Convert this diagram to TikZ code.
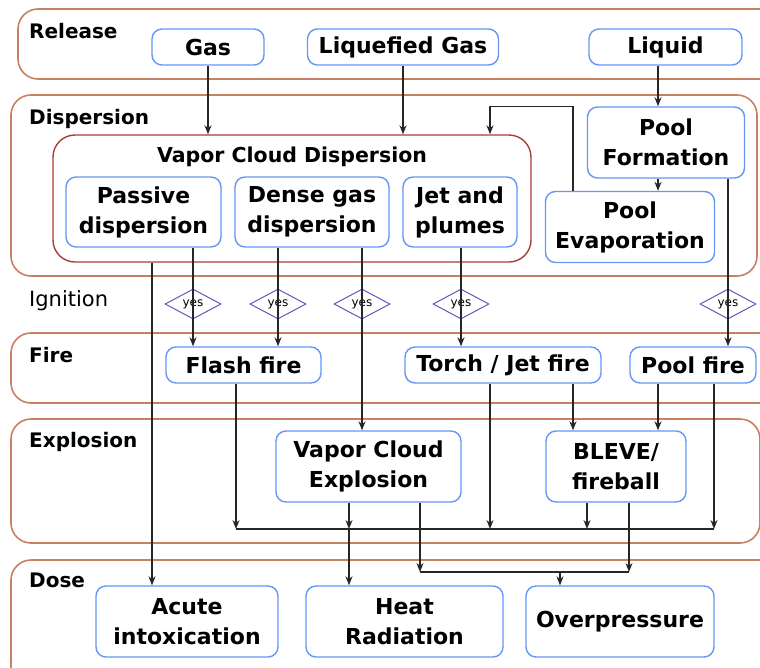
\documentclass[tikz,border=0pt]{standalone}
\usepackage{fontspec}
\setmainfont{DejaVu Sans}
\usetikzlibrary{shapes.geometric,arrows.meta}
\definecolor{bandc}{RGB}{200,128,98}
\definecolor{cloudc}{RGB}{168,62,56}
\definecolor{boxc}{RGB}{102,150,245}
\definecolor{yesc}{RGB}{92,92,190}
\definecolor{linec}{RGB}{38,38,38}

\begin{document}
\begin{tikzpicture}[x=1pt,y=-1pt,
        band/.style={draw=bandc,line width=1.6pt,rounded corners=20pt},
        lbl/.style={anchor=base west,inner sep=0pt,font=\bfseries\fontsize{20}{24}\selectfont},
        box/.style={draw=boxc,line width=1.4pt,rounded corners=10pt,align=center,inner sep=0pt,font=\bfseries\fontsize{22}{30}\selectfont},
        yesd/.style={diamond,draw=yesc,line width=1pt,minimum width=56pt,minimum height=28pt,inner sep=0pt,font=\fontsize{12}{12}\selectfont},
        arr/.style={draw=linec,line width=1.3pt,-{Stealth[length=9pt,width=7pt]}},
        ln/.style={draw=linec,line width=1.3pt}]
    \useasboundingbox (0,0) rectangle (760,667);
    \draw[band] (18,9) rectangle (790,79);
    \draw[band] (11,95) rectangle (757,276);
    \draw[band] (11,333) rectangle (790,403);
    \draw[band] (11,419) rectangle (760,543);
    \draw[band] (11,560) rectangle (790,700);
    \node[lbl] (lrel) at (29,38) {Release};
    \node[lbl] (ldis) at (29,124) {Dispersion};
    \node[lbl,font=\fontsize{21}{24}\selectfont] (lign) at (29,306) {Ignition};
    \node[lbl] (lfire) at (29,362) {Fire};
    \node[lbl] (lexp) at (29,447) {Explosion};
    \node[lbl] (ldose) at (29,587) {Dose};

    \node[box,minimum width=112pt,minimum height=36pt] (gas) at (208,47) {Gas};
    \node[box,minimum width=191pt,minimum height=36pt] (lgas) at (403,47) {Liquefied Gas};
    \node[box,minimum width=153pt,minimum height=36pt] (liquid) at (665.5,47) {Liquid};

    \node[draw=cloudc,line width=1.4pt,rounded corners=22pt,minimum width=478pt,minimum height=127pt] (vcd) at (292,198.5) {};
    \node[font=\bfseries\fontsize{20.5}{24}\selectfont] (vcdt) at (292,157) {Vapor Cloud Dispersion};
    \node[box,minimum width=155pt,minimum height=70pt] (passive) at (143.5,212) {Passive\\dispersion};
    \node[box,minimum width=154pt,minimum height=70pt] (dense) at (312,212) {Dense gas\\dispersion};
    \node[box,minimum width=114pt,minimum height=70pt] (jet) at (460,212) {Jet and\\plumes};
    \node[box,minimum width=157pt,minimum height=71pt] (poolform) at (666,142.5) {Pool\\Formation};
    \node[box,minimum width=169pt,minimum height=71pt] (poolevap) at (630,227) {Pool\\Evaporation};

    \foreach \n/\x in {1/193,2/278,3/362,4/461,5/728}
        \node[yesd] (y\n) at (\x,304) {yes};

    \node[box,minimum width=155pt,minimum height=36pt] (flash) at (243.5,365) {Flash fire};
    \node[box,minimum width=196pt,minimum height=36pt] (torch) at (503,365) {Torch / Jet fire};
    \node[box,minimum width=126pt,minimum height=36pt] (poolfire) at (693,365) {Pool fire};
    \node[box,minimum width=185pt,minimum height=71pt] (vce) at (368.5,466.5) {Vapor Cloud\\Explosion};
    \node[box,minimum width=140pt,minimum height=71pt] (bleve) at (616,466.5) {BLEVE/\\fireball};
    \node[box,minimum width=182pt,minimum height=71pt] (acute) at (187,621.5) {Acute\\intoxication};
    \node[box,minimum width=197pt,minimum height=71pt] (heat) at (404.5,621.5) {Heat\\Radiation};
    \node[box,minimum width=188pt,minimum height=71pt] (over) at (620,621.5) {Overpressure};

    \coordinate (hb1) at (236,529);
    \coordinate (hb2) at (349,529);
    \coordinate (hb3) at (490,529);
    \coordinate (hb4) at (587,529);
    \coordinate (hb5) at (714,529);
    \coordinate (ob1) at (420,572);
    \coordinate (ob2) at (560,572);
    \coordinate (ob3) at (629,572);

    \draw[arr] (gas) -- (gas |- vcd.north);
    \draw[arr] (lgas) -- (lgas |- vcd.north);
    \draw[arr] ([xshift=-8pt]poolform.north |- liquid.south) -- ([xshift=-8pt]poolform.north);
    \draw[arr] ([xshift=-8pt]poolform.south) -- ([xshift=-8pt]poolform.south |- poolevap.north);
    \draw[arr] ([xshift=-57pt]poolevap.north) |- ([xshift=198pt]vcd.north |- poolform.north) -- ([xshift=198pt]vcd.north);
    \draw[arr] ([xshift=-35pt]acute.north |- vcd.south) -- ([xshift=-35pt]acute.north);
    \draw[arr] (passive.south -| y1) -- (flash.north -| y1);
    \draw[arr] (dense.south -| y2) -- (flash.north -| y2);
    \draw[arr] (dense.south -| y3) -- (vce.north -| y3);
    \draw[arr] (jet.south -| y4) -- (torch.north -| y4);
    \draw[arr] (poolform.south -| y5) -- (poolfire.north -| y5);
    \draw[arr] ([xshift=-43pt]bleve.north |- torch.south) -- ([xshift=-43pt]bleve.north);
    \draw[arr] ([xshift=42pt]bleve.north |- poolfire.south) -- ([xshift=42pt]bleve.north);

    \draw[ln] (hb1) -- (hb5);
    \draw[arr] (flash.south -| hb1) -- (hb1);
    \draw[arr] (vce.south -| hb2) -- (hb2);
    \draw[arr] (hb2) -- (heat.north -| hb2);
    \draw[arr] (torch.south -| hb3) -- (hb3);
    \draw[arr] (bleve.south -| hb4) -- (hb4);
    \draw[arr] (poolfire.south -| hb5) -- (hb5);
    \draw[ln] (ob1) -- (ob3);
    \draw[arr] (vce.south -| ob1) -- (ob1);
    \draw[arr] (bleve.south -| ob3) -- (ob3);
    \draw[arr] (ob2) -- (over.north -| ob2);
\end{tikzpicture}
\end{document}
